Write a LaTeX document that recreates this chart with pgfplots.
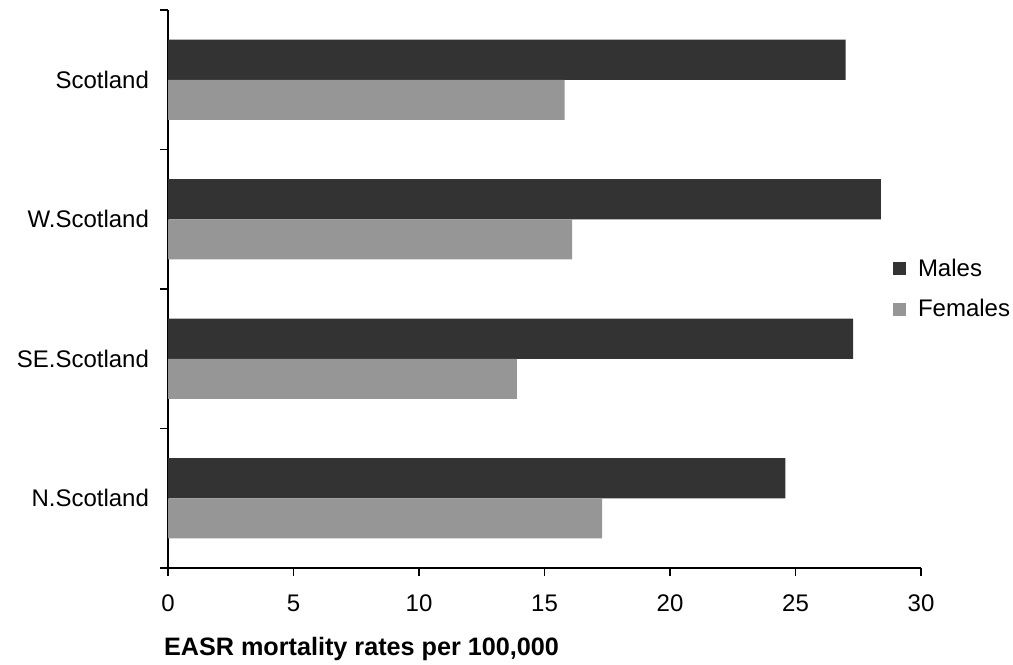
\documentclass[border=0pt]{standalone}
\usepackage{fontspec}
\setmainfont{Liberation Sans}
\usepackage{pgfplots}
\pgfplotsset{compat=1.18}
\definecolor{males}{HTML}{333333}
\definecolor{females}{HTML}{969696}
\begin{document}
\begin{tikzpicture}
\begin{axis}[
  name=ax,
  scale only axis,
  width=376.5pt, height=279pt,
  xmin=0, xmax=30,
  ymin=-0.5, ymax=3.5,
  axis x line=bottom, axis y line=left,
  axis line style={-, black, line width=0.8pt},
  xtick={0,5,...,30},
  ytick={0,1,2,3},
  yticklabels={N.Scotland,SE.Scotland,W.Scotland,Scotland},
  minor ytick={-0.5,0.5,1.5,2.5,3.5},
  major tick length=0pt,
  minor tick length=4pt,
  tick align=outside,
  every x tick/.style={black, line width=0.8pt},
  every minor y tick/.style={black, line width=0.8pt},
  extra x ticks={0,5,...,30}, extra x tick labels={},
  extra x tick style={major tick length=4pt, tick style={black,line width=0.8pt}},
  tick label style={font=\fontsize{12}{14}\selectfont},
  /pgf/number format/assume math mode=true,
  xticklabel style={yshift=-10pt},
  yticklabel style={xshift=-6pt},
  xlabel={\bfseries EASR mortality rates per 100,000},
  xlabel style={at={(rel axis cs:0,0)}, anchor=north west, yshift=-31pt, xshift=-5.5pt, font=\fontsize{12.6}{14}\selectfont},
  legend style={at={(rel axis cs:0.962,0.5)}, anchor=west, draw=none, fill=none,
    font=\fontsize{12}{14}\selectfont, row sep=6pt, inner sep=0pt,
    /tikz/every odd column/.append style={column sep=4pt}},
  legend image code/.code={\fill[#1] (0pt,-3.3pt) rectangle (6.6pt,3.3pt);},
  legend cell align=left,
]
\addplot[xbar, bar width=0.287, bar shift=0.1435, fill=males, draw=none] coordinates {
  (24.6,0) (27.3,1) (28.4,2) (27.0,3)};
\addlegendentry{Males}
\addplot[xbar, bar width=0.287, bar shift=-0.1435, fill=females, draw=none] coordinates {
  (17.3,0) (13.9,1) (16.1,2) (15.8,3)};
\addlegendentry{Females}
\end{axis}
\pgfresetboundingbox
\path (ax.south west) ++(-84pt,-48pt) rectangle ([shift={(46pt,5pt)}]ax.north east);
\end{tikzpicture}
\end{document}
